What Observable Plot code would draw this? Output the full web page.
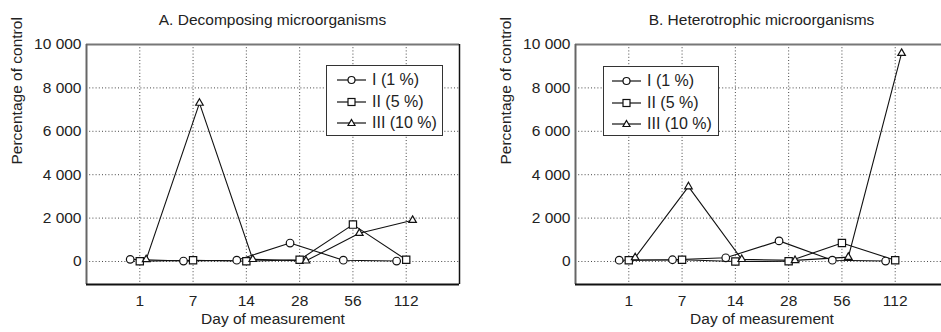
<!DOCTYPE html>
<html>
<head>
<meta charset="utf-8">
<script src="https://cdn.jsdelivr.net/npm/d3@7"></script>
<script src="https://cdn.jsdelivr.net/npm/@observablehq/plot@0.6"></script>
<style>
  html, body { margin: 0; padding: 0; background: white; }
  body { width: 941px; height: 332px; overflow: hidden; font-family: "Liberation Sans", Arial, sans-serif; color: #222; }
  #wrap { position: relative; display: flex; width: 978px; }
  .panel { position: relative; width: 489px; flex: none; }
  .title { height: 34px; box-sizing: border-box; padding-top: 11px; line-height: 18px; font-size: 15.5px; text-align: center; padding-left: 56px; }
  .legend { position: absolute; background: white; border: 1.5px solid #333; box-sizing: border-box; }
  .legend .row { position: absolute; left: 0; height: 20px; display: flex; align-items: center; font-size: 16px; white-space: nowrap; }
  .legend svg { display: block; margin-right: 5px; }
</style>
</head>
<body>
<div id="wrap"></div>
<script>
// ---- data ----
const days = ["1", "7", "14", "28", "56", "112"];
const seriesNames = ["I (1 %)", "II (5 %)", "III (10 %)"];
const symbols = ["circle", "square", "triangle"];
const titles = ["A. Decomposing microorganisms", "B. Heterotrophic microorganisms"];
const yTicks = [0, 2000, 4000, 6000, 8000, 10000];

const decompI   = [100, 20, 60, 850, 60, 20];
const decompII  = [10, 60, 10, 80, 1700, 80];
const decompIII = [90, 7300, 100, 30, 1300, 1900];

const heteroI   = [60, 80, 170, 950, 60, 20];
const heteroII  = [60, 80, 0, 10, 850, 60];
const heteroIII = [180, 3450, 100, 50, 200, 9600];

const panels = [
  { title: titles[0], series: [decompI, decompII, decompIII], legend: { left: 326, top: 65, width: 117, height: 71, lineLeft: 10 } },
  { title: titles[1], series: [heteroI, heteroII, heteroIII], legend: { left: 603 - 489, top: 66, width: 116, height: 70, lineLeft: 8 } }
];

// ---- drawing ----
const offsets = [-0.18, 0, 0.12];
const radii = [3.8, 4.1, 2.8];
const fmt = d => d3.format(",")(d).replace(/,/g, " ");
const wrap = document.getElementById("wrap");

function swatch(sym) {
  const ns = "http://www.w3.org/2000/svg";
  const svg = document.createElementNS(ns, "svg");
  svg.setAttribute("width", 30); svg.setAttribute("height", 14);
  const line = document.createElementNS(ns, "line");
  line.setAttribute("x1", 0); line.setAttribute("x2", 29); line.setAttribute("y1", 7); line.setAttribute("y2", 7);
  line.setAttribute("stroke", "#111"); line.setAttribute("stroke-width", 1.2);
  svg.appendChild(line);
  let m;
  if (sym === "circle") { m = document.createElementNS(ns, "circle"); m.setAttribute("cx", 14.5); m.setAttribute("cy", 7); m.setAttribute("r", 3.5); }
  else if (sym === "square") { m = document.createElementNS(ns, "rect"); m.setAttribute("x", 11); m.setAttribute("y", 3.5); m.setAttribute("width", 7); m.setAttribute("height", 7); }
  else { m = document.createElementNS(ns, "path"); m.setAttribute("d", "M14.5,3.5L18,9.5L11,9.5Z"); }
  m.setAttribute("fill", "white"); m.setAttribute("stroke", "#111"); m.setAttribute("stroke-width", 1.2);
  svg.appendChild(m);
  return svg;
}

panels.forEach((p, pi) => {
  const div = document.createElement("div");
  div.className = "panel";
  const t = document.createElement("div");
  t.className = "title";
  t.textContent = p.title;
  div.appendChild(t);

  const data = p.series.flatMap((vals, s) => vals.map((v, i) => ({ s, x: i + 1 + offsets[s], y: v })));

  const chart = Plot.plot({
    width: 489,
    height: 298,
    marginLeft: 86,
    marginRight: 30,
    marginTop: 10,
    marginBottom: 48,
    style: { fontFamily: "'Liberation Sans', Arial, sans-serif", fontSize: "15.5px", color: "#222", background: "white", overflow: "visible" },
    x: { domain: [0, 7], ticks: [1, 2, 3, 4, 5, 6], tickFormat: i => days[i - 1], tickSize: 0, tickPadding: 10, label: null },
    y: { domain: [-1060, 10000], ticks: yTicks, tickFormat: fmt, tickSize: 0, tickPadding: 5, label: null },
    marks: [
      Plot.gridY({ ticks: yTicks.slice(0, 5), stroke: "#333", strokeOpacity: 0.9, strokeDasharray: "1,2.2" }),
      Plot.gridX({ ticks: [1, 2, 3, 4, 5, 6], stroke: "#333", strokeOpacity: 0.9, strokeDasharray: "1,2.2" }),
      Plot.ruleY([10000], { stroke: "#777", strokeWidth: 2 }),
      Plot.ruleX([7], { stroke: "#111", strokeWidth: 1.5 }),
      Plot.ruleX([0], { stroke: "#666", strokeWidth: 2 }),
      Plot.ruleY([-1060], { stroke: "#111", strokeWidth: 2 }),
      Plot.line(data, { x: "x", y: "y", z: "s", stroke: "#111", strokeWidth: 1.1 }),
      ...symbols.map((sym, s) => Plot.dot(data.filter(d => d.s === s), { x: "x", y: "y", symbol: sym, r: radii[s], fill: "white", stroke: "#111", strokeWidth: 1.2 })),
      Plot.text(["Percentage of control"], { frameAnchor: "left", dx: -69, rotate: -90, fontSize: 15.5, fill: "#222" }),
      Plot.text(["Day of measurement"], { frameAnchor: "bottom", dy: 39, fontSize: 15.5, fill: "#222" })
    ]
  });
  div.appendChild(chart);

  const lg = document.createElement("div");
  lg.className = "legend";
  lg.style.left = p.legend.left + "px";
  lg.style.top = p.legend.top + "px";
  lg.style.width = p.legend.width + "px";
  lg.style.height = p.legend.height + "px";
  seriesNames.forEach((name, s) => {
    const row = document.createElement("div");
    row.className = "row";
    row.style.left = p.legend.lineLeft + "px";
    row.style.top = (4 + s * 21.7) + "px";
    row.appendChild(swatch(symbols[s]));
    const span = document.createElement("span");
    span.textContent = name;
    row.appendChild(span);
    lg.appendChild(row);
  });
  div.appendChild(lg);
  wrap.appendChild(div);
});
</script>
</body>
</html>
